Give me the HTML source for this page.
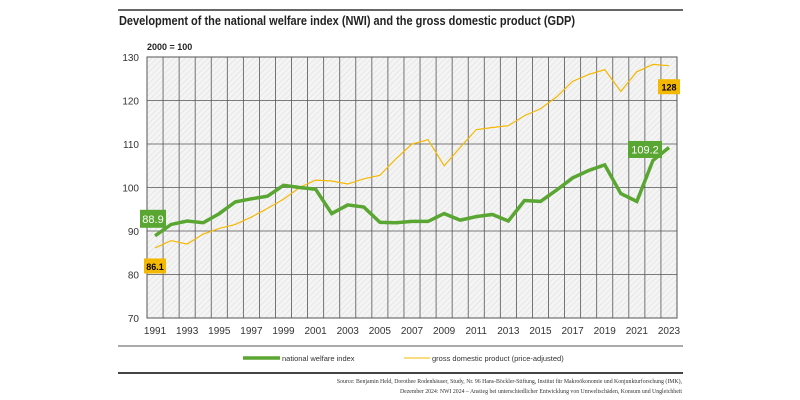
<!DOCTYPE html>
<html><head><meta charset="utf-8"><style>
html,body{margin:0;padding:0;background:#fff;width:800px;height:400px;overflow:hidden;font-family:"Liberation Sans",sans-serif}
</style></head><body>
<svg width="800" height="400" xmlns="http://www.w3.org/2000/svg">
<defs>
<pattern id="hatch" width="4" height="4" patternUnits="userSpaceOnUse" patternTransform="rotate(45)">
<rect width="4" height="4" fill="#f4f4f4"/><line x1="0" y1="0" x2="0" y2="4" stroke="#dcdcdc" stroke-width="1"/>
</pattern>
</defs>
<line x1="118" y1="10" x2="683" y2="10" stroke="#333" stroke-width="1.5"/>
<text x="119" y="25" font-size="12.5" font-weight="bold" fill="#222" textLength="456" lengthAdjust="spacingAndGlyphs">Development of the national welfare index (NWI) and the gross domestic product (GDP)</text>
<text x="147" y="50" font-size="9" font-weight="bold" fill="#222">2000 = 100</text>
<rect id="plotbg" x="147" y="57" width="530" height="261" fill="url(#hatch)"/>
<g id="grid"></g>
<g id="series"></g>
<g id="labels"></g>
<line x1="118" y1="346" x2="683" y2="346" stroke="#555" stroke-width="1"/>
<g>
<line x1="243" y1="358" x2="280" y2="358" stroke="#5aa632" stroke-width="3.5"/>
<text x="282" y="361" font-size="7.5" fill="#333">national welfare index</text></g>
<g>
<line x1="404" y1="358" x2="430" y2="358" stroke="#f5b800" stroke-width="1"/>
<text x="432" y="361" font-size="7.5" fill="#333">gross domestic product (price-adjusted)</text></g>
<line x1="118" y1="373" x2="683" y2="373" stroke="#444" stroke-width="2"/>
<text x="682" y="383" font-size="5.8" text-anchor="end" fill="#333" font-family="Liberation Serif,serif">Source: Benjamin Held, Dorothee Rodenhäuser, Study, Nr. 96 Hans-Böckler-Stiftung, Institut für Makroökonomie und Konjunkturforschung (IMK),</text>
<text x="682" y="393" font-size="5.8" text-anchor="end" fill="#333" font-family="Liberation Serif,serif">Dezember 2024: NWI 2024 – Anstieg bei unterschiedlicher Entwicklung von Umweltschäden, Konsum und Ungleichheit</text>
</svg>
<script>
const years=[1991,1992,1993,1994,1995,1996,1997,1998,1999,2000,2001,2002,2003,2004,2005,2006,2007,2008,2009,2010,2011,2012,2013,2014,2015,2016,2017,2018,2019,2020,2021,2022,2023];
const nwi=[88.9,91.5,92.3,91.9,94,96.7,97.4,98,100.5,100,99.6,94,96,95.5,92,91.9,92.2,92.2,94,92.5,93.3,93.8,92.3,97,96.8,99.4,102.2,103.9,105.2,98.6,96.8,106.2,109.2];
const gdp=[86.1,87.8,87.0,89.3,90.6,91.5,93.2,95.2,97.3,100,101.7,101.5,100.8,102,102.8,106.6,110.0,111,105,109.2,113.3,113.8,114.2,116.5,118.1,120.8,124.4,126,127.1,122.1,126.6,128.3,128];
const yTicks=[70,80,90,100,110,120,130];
const xTickYears=[1991,1993,1995,1997,1999,2001,2003,2005,2007,2009,2011,2013,2015,2017,2019,2021,2023];
const L=147,R=677,T=57,B=318;
const step=(R-L)/years.length;
const x=yr=>L+(yr-years[0]+0.5)*step;
const y=v=>B-(v-70)/60*(B-T);
const NS="http://www.w3.org/2000/svg";
function mk(tag,attrs,parent){const e=document.createElementNS(NS,tag);for(const k in attrs)e.setAttribute(k,attrs[k]);parent.appendChild(e);return e;}
const grid=document.getElementById('grid');
for(let i=0;i<=years.length;i++){const gx=L+i*step;
const l=mk('line',{x1:gx,y1:T,x2:gx,y2:B,stroke:'#555','stroke-width':0.8},grid);

}
yTicks.forEach(v=>{
const l=mk('line',{x1:L,y1:y(v),x2:R,y2:y(v),stroke:'#555','stroke-width':0.8},grid);


const t=mk('text',{x:139,y:y(v)+4,'font-size':10,'text-anchor':'end',fill:'#333'},grid);t.textContent=v;

});
xTickYears.forEach(yr=>{
const t=mk('text',{x:x(yr),y:334,'font-size':10,'text-anchor':'middle',fill:'#333'},grid);t.textContent=yr;

});
mk('rect',{x:L,y:T,width:R-L,height:B-T,fill:'none',stroke:'#555','stroke-width':1},grid);
const s=document.getElementById('series');
const g1=mk('polyline',{points:gdp.map((v,i)=>x(years[i])+','+y(v)).join(' '),fill:'none',stroke:'#f5b800','stroke-width':1.2},s);


const n1=mk('polyline',{points:nwi.map((v,i)=>x(years[i])+','+y(v)).join(' '),fill:'none',stroke:'#5aa632','stroke-width':3.5,'stroke-linejoin':'miter'},s);


const lab=document.getElementById('labels');
function box(cx,cy,w,h,bg,fg,txt,name,bold){
const g=mk('g',{},lab);


mk('rect',{x:cx-w/2,y:cy-h/2,width:w,height:h,fill:bg},g);
const t=mk('text',{x:cx,y:cy+4,'font-size':bold?9:11,'font-weight':bold?'bold':'normal','text-anchor':'middle',fill:fg},g);t.textContent=txt;}
const n=nwi.length-1;
box(153,y(nwi[0])-17,26,18,'#5aa632','#fff',nwi[0].toFixed(1),'nwi-start-label',false);
box(155,y(gdp[0])+18,22,15,'#f5b800','#000',gdp[0].toFixed(1),'gdp-start-label',true);
box(645,y(nwi[n])+2,34,17,'#5aa632','#fff',nwi[n].toFixed(1),'nwi-end-label',false);
box(669,y(gdp[n])+21,22,15,'#f5b800','#000',String(Math.round(gdp[n])),'gdp-end-label',true);
</script>
</body></html>
